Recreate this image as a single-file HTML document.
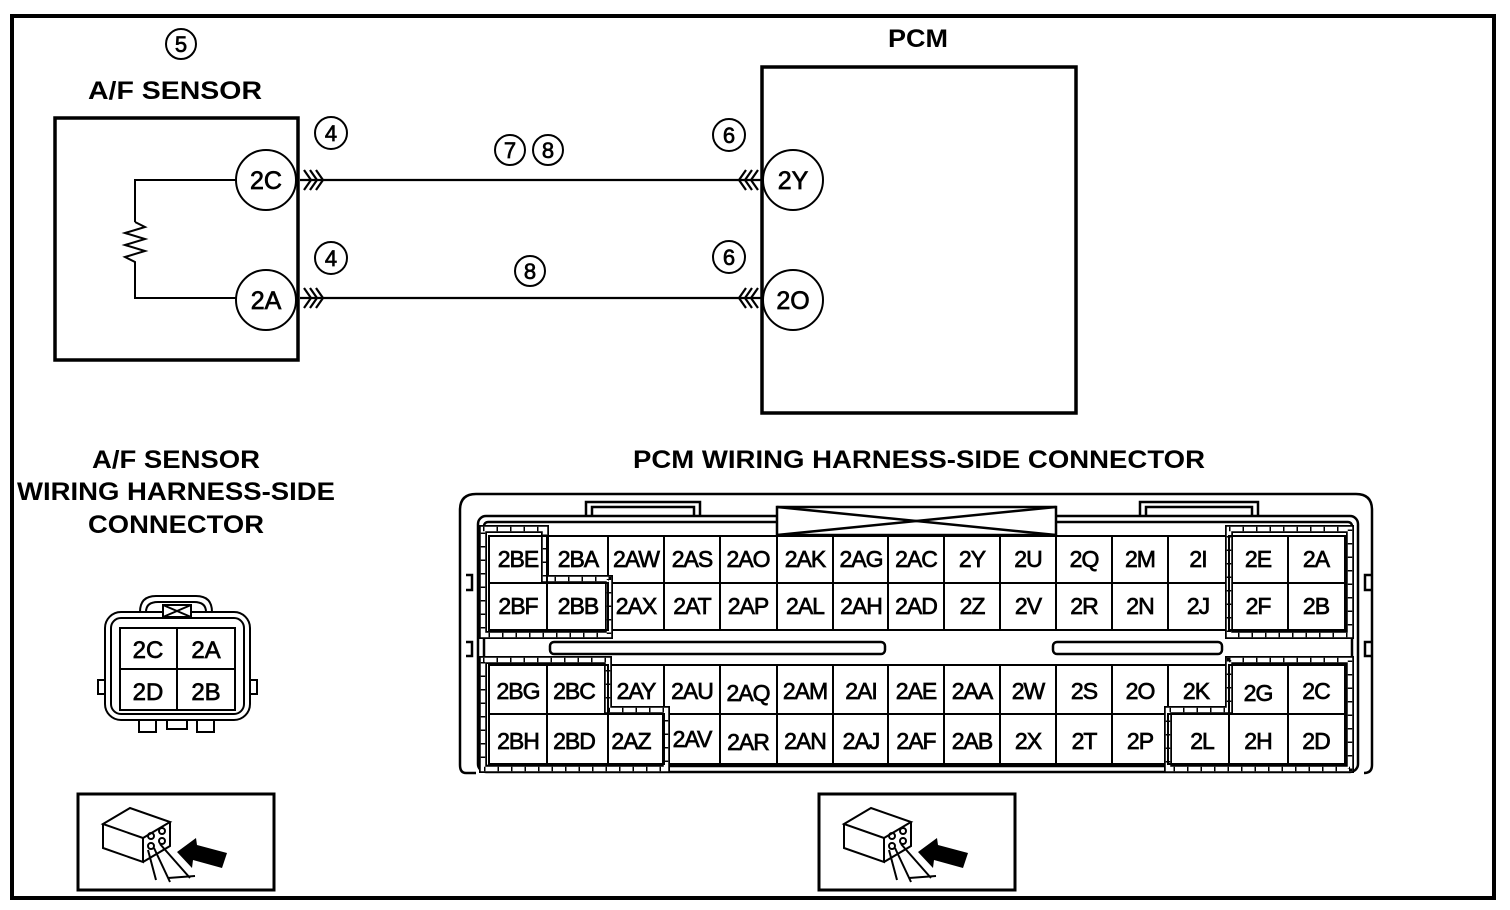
<!DOCTYPE html>
<html><head><meta charset="utf-8"><style>
html,body{margin:0;padding:0;background:#fff;}
svg{display:block;}
text{font-family:"Liberation Sans",Arial,sans-serif;fill:#000;}
.h{font-weight:bold;}
.n{font-weight:normal;stroke:#000;stroke-width:0.7;}
</style></head><body>
<svg width="1510" height="910" viewBox="0 0 1510 910" xmlns="http://www.w3.org/2000/svg">
<rect x="12" y="16" width="1482" height="882" fill="none" stroke="#000" stroke-width="4"/>

<!-- A/F sensor -->
<circle cx="181" cy="44" r="15" fill="none" stroke="#000" stroke-width="2"/>
<text class="n" x="181" y="52" font-size="22" text-anchor="middle">5</text>
<text class="h" x="88" y="99" font-size="25" textLength="174" lengthAdjust="spacingAndGlyphs">A/F SENSOR</text>
<rect x="55" y="118" width="243" height="242" fill="none" stroke="#000" stroke-width="3.5"/>
<polyline points="236,180 135,180 135,222" fill="none" stroke="#000" stroke-width="2"/>
<polyline points="135,222 145,227 125,233 145,239 125,245 145,251 125,257 135,262 135,298 236,298" fill="none" stroke="#000" stroke-width="2"/>
<circle cx="266" cy="180" r="30" fill="#fff" stroke="#000" stroke-width="2"/>
<text class="n" x="266" y="189" font-size="25" text-anchor="middle">2C</text>
<circle cx="266" cy="300" r="30" fill="#fff" stroke="#000" stroke-width="2"/>
<text class="n" x="266" y="309" font-size="25" text-anchor="middle">2A</text>
<circle cx="331" cy="133" r="16" fill="none" stroke="#000" stroke-width="2"/>
<text class="n" x="331" y="141" font-size="22" text-anchor="middle">4</text>
<circle cx="331" cy="258" r="16" fill="none" stroke="#000" stroke-width="2"/>
<text class="n" x="331" y="266" font-size="22" text-anchor="middle">4</text>

<!-- wires -->
<g stroke="#000" stroke-width="2.2" fill="none">
<line x1="300" y1="180" x2="762" y2="180"/>
<line x1="300" y1="298" x2="762" y2="298"/>
<polyline points="304,170 311,180 304,190"/><polyline points="310,170 317,180 310,190"/><polyline points="316,170 323,180 316,190"/>
<polyline points="304,288 311,298 304,308"/><polyline points="310,288 317,298 310,308"/><polyline points="316,288 323,298 316,308"/>
<polyline points="746,170 739,180 746,190"/><polyline points="752,170 745,180 752,190"/><polyline points="758,170 751,180 758,190"/>
<polyline points="746,288 739,298 746,308"/><polyline points="752,288 745,298 752,308"/><polyline points="758,288 751,298 758,308"/>
</g>
<circle cx="510" cy="150" r="15" fill="none" stroke="#000" stroke-width="2"/>
<text class="n" x="510" y="158" font-size="22" text-anchor="middle">7</text>
<circle cx="548" cy="150" r="15" fill="none" stroke="#000" stroke-width="2"/>
<text class="n" x="548" y="158" font-size="22" text-anchor="middle">8</text>
<circle cx="530" cy="271" r="15" fill="none" stroke="#000" stroke-width="2"/>
<text class="n" x="530" y="279" font-size="22" text-anchor="middle">8</text>
<circle cx="729" cy="135" r="16" fill="none" stroke="#000" stroke-width="2"/>
<text class="n" x="729" y="143" font-size="22" text-anchor="middle">6</text>
<circle cx="729" cy="257" r="16" fill="none" stroke="#000" stroke-width="2"/>
<text class="n" x="729" y="265" font-size="22" text-anchor="middle">6</text>

<!-- PCM -->
<text class="h" x="888" y="47" font-size="25" textLength="60" lengthAdjust="spacingAndGlyphs">PCM</text>
<rect x="762" y="67" width="314" height="346" fill="none" stroke="#000" stroke-width="3.5"/>
<circle cx="793" cy="180" r="30" fill="#fff" stroke="#000" stroke-width="2"/>
<text class="n" x="793" y="189" font-size="25" text-anchor="middle">2Y</text>
<circle cx="793" cy="300" r="30" fill="#fff" stroke="#000" stroke-width="2"/>
<text class="n" x="793" y="309" font-size="25" text-anchor="middle">2O</text>

<!-- labels -->
<text class="h" x="92" y="468" font-size="25" textLength="168" lengthAdjust="spacingAndGlyphs">A/F SENSOR</text>
<text class="h" x="17" y="500" font-size="25" textLength="318" lengthAdjust="spacingAndGlyphs">WIRING HARNESS-SIDE</text>
<text class="h" x="88" y="533" font-size="25" textLength="176" lengthAdjust="spacingAndGlyphs">CONNECTOR</text>
<text class="h" x="633" y="468" font-size="25" textLength="572" lengthAdjust="spacingAndGlyphs">PCM WIRING HARNESS-SIDE CONNECTOR</text>

<!-- small connector -->
<g stroke="#000" stroke-width="2" fill="none">
<path d="M140,612 Q140,596 156,596 L196,596 Q212,596 212,612"/>
<path d="M146,612 Q146,602 158,602 L194,602 Q206,602 206,612"/>
<rect x="105" y="612" width="145" height="108" rx="16"/>
<rect x="111" y="618" width="133" height="96" rx="10"/>
<rect x="120" y="628" width="115" height="82" fill="#fff"/>
<line x1="177" y1="628" x2="177" y2="710"/>
<line x1="120" y1="669" x2="235" y2="669"/>
<rect x="163" y="605" width="28" height="12" fill="#fff"/>
<line x1="163" y1="605" x2="191" y2="617"/><line x1="163" y1="617" x2="191" y2="605"/>
<rect x="139" y="720" width="17" height="12"/><rect x="167" y="720" width="20" height="9"/><rect x="197" y="720" width="17" height="12"/>
<path d="M105,680 L98,680 L98,694 L105,694"/><path d="M250,680 L257,680 L257,694 L250,694"/>
</g>
<g font-size="24" text-anchor="middle" class="n">
<text class="n" x="148" y="658">2C</text><text class="n" x="206" y="658">2A</text>
<text class="n" x="148" y="700">2D</text><text class="n" x="206" y="700">2B</text>
</g>

<!-- icon boxes -->
<g id="icon">
<rect x="78" y="794" width="196" height="96" fill="#fff" stroke="#000" stroke-width="3"/>
<g stroke="#000" stroke-width="2" fill="none">
<path d="M103,824 L130,808 L170,822 L143,838 Z" fill="#fff"/>
<path d="M103,824 L103,848 L143,862 L143,838"/>
<path d="M143,862 L170,846 L170,822"/>
<line x1="148" y1="850" x2="156" y2="880"/><line x1="154" y1="848" x2="170" y2="882"/><line x1="160" y1="844" x2="190" y2="878"/>
<line x1="168" y1="878" x2="195" y2="876"/>
<circle cx="151" cy="836" r="3"/><circle cx="162" cy="831" r="3"/><circle cx="151" cy="846" r="3"/><circle cx="162" cy="841" r="3"/>
</g>
<path d="M177,852 L196,838 L197,845 L227,853 L222,868 L193,860 L192,868 Z" fill="#000"/>
</g>
<use href="#icon" x="741" y="0"/>

<!-- PCM connector shell -->
<g stroke="#000" stroke-width="2.5" fill="none">
<path d="M476,773 L466,773 Q460,773 460,765 L460,510 Q460,494 476,494 L1356,494 Q1372,494 1372,510 L1372,765 Q1372,773 1364,773"/>
<rect x="478" y="516" width="880" height="256" rx="8"/>
<rect x="484" y="522" width="868" height="244" rx="4"/>
<path d="M586,516 L586,502 L700,502 L700,516"/><path d="M592,516 L592,507 L694,507 L694,516"/>
<path d="M1140,516 L1140,502 L1258,502 L1258,516"/><path d="M1146,516 L1146,507 L1252,507 L1252,516"/>
<rect x="777" y="507" width="279" height="28" fill="#fff"/>
<line x1="777" y1="507" x2="1056" y2="535"/><line x1="777" y1="535" x2="1056" y2="507"/>
<rect x="550" y="642" width="335" height="12" rx="4"/>
<rect x="1053" y="642" width="169" height="12" rx="4"/>
<path d="M466,575 L472,575 L472,590 L466,590"/><path d="M466,642 L472,642 L472,656 L466,656"/>
<path d="M1372,575 L1365,575 L1365,590 L1372,590"/><path d="M1372,642 L1365,642 L1365,656 L1372,656"/>
</g>

<!-- cells -->
<g stroke="#000" stroke-width="2" fill="#fff">
<rect x="489" y="536" width="856" height="94"/>
<rect x="489" y="665" width="856" height="99"/>
</g>
<g stroke="#000" stroke-width="2">
<line x1="489" y1="583" x2="1345" y2="583"/>
<line x1="489" y1="714" x2="1345" y2="714"/>
<path d="M547,536V630 M608,536V630 M664,536V630 M720,536V630 M777,536V630 M833,536V630 M888,536V630 M944,536V630 M1000,536V630 M1056,536V630 M1112,536V630 M1168,536V630 M1229,536V630 M1288,536V630"/>
<path d="M547,665V764 M608,665V764 M664,665V764 M720,665V764 M777,665V764 M833,665V764 M888,665V764 M944,665V764 M1000,665V764 M1056,665V764 M1112,665V764 M1168,665V764 M1229,665V764 M1288,665V764"/>
</g>

<!-- hatched regions -->
<g fill="none">
<g stroke="#000" stroke-width="8">
<polygon points="483,529 545,529 545,579 609,579 609,635 483,635"/>
<polygon points="1229,529 1350,529 1350,635 1229,635"/>
<polygon points="483,660 608,660 608,710 666,710 666,769 483,769"/>
<polygon points="1229,660 1350,660 1350,769 1168,769 1168,710 1229,710"/>
</g>
<g stroke="#fff" stroke-width="4.5">
<polygon points="483,529 545,529 545,579 609,579 609,635 483,635"/>
<polygon points="1229,529 1350,529 1350,635 1229,635"/>
<polygon points="483,660 608,660 608,710 666,710 666,769 483,769"/>
<polygon points="1229,660 1350,660 1350,769 1168,769 1168,710 1229,710"/>
</g>
<g stroke="#000" stroke-width="4.5" stroke-dasharray="1.5 12">
<polygon points="483,529 545,529 545,579 609,579 609,635 483,635"/>
<polygon points="1229,529 1350,529 1350,635 1229,635"/>
<polygon points="483,660 608,660 608,710 666,710 666,769 483,769"/>
<polygon points="1229,660 1350,660 1350,769 1168,769 1168,710 1229,710"/>
</g>
<g stroke="#000" stroke-width="2">
<path d="M489,536H547V583H489Z M489,583H608V630H489Z M1229,536H1345V630H1229Z"/>
<path d="M489,665H608V764H489Z M608,714H664V764H608 M1168,714H1229V764H1168Z M1229,665H1345V764H1229Z"/>
</g>
</g>

<g font-size="23" text-anchor="middle" letter-spacing="-1">
<text class="n" x="518" y="567">2BE</text><text class="n" x="578" y="567">2BA</text><text class="n" x="636" y="567">2AW</text><text class="n" x="692" y="567">2AS</text><text class="n" x="748" y="567">2AO</text><text class="n" x="805" y="567">2AK</text><text class="n" x="861" y="567">2AG</text><text class="n" x="916" y="567">2AC</text><text class="n" x="972" y="567">2Y</text><text class="n" x="1028" y="567">2U</text><text class="n" x="1084" y="567">2Q</text><text class="n" x="1140" y="567">2M</text><text class="n" x="1198" y="567">2I</text><text class="n" x="1258" y="567">2E</text><text class="n" x="1316" y="567">2A</text>
<text class="n" x="518" y="614">2BF</text><text class="n" x="578" y="614">2BB</text><text class="n" x="636" y="614">2AX</text><text class="n" x="692" y="614">2AT</text><text class="n" x="748" y="614">2AP</text><text class="n" x="805" y="614">2AL</text><text class="n" x="861" y="614">2AH</text><text class="n" x="916" y="614">2AD</text><text class="n" x="972" y="614">2Z</text><text class="n" x="1028" y="614">2V</text><text class="n" x="1084" y="614">2R</text><text class="n" x="1140" y="614">2N</text><text class="n" x="1198" y="614">2J</text><text class="n" x="1258" y="614">2F</text><text class="n" x="1316" y="614">2B</text>
<text class="n" x="518" y="699">2BG</text><text class="n" x="574" y="699">2BC</text><text class="n" x="636" y="699">2AY</text><text class="n" x="692" y="699">2AU</text><text class="n" x="748" y="701">2AQ</text><text class="n" x="805" y="699">2AM</text><text class="n" x="861" y="699">2AI</text><text class="n" x="916" y="699">2AE</text><text class="n" x="972" y="699">2AA</text><text class="n" x="1028" y="699">2W</text><text class="n" x="1084" y="699">2S</text><text class="n" x="1140" y="699">2O</text><text class="n" x="1196" y="699">2K</text><text class="n" x="1258" y="701">2G</text><text class="n" x="1316" y="699">2C</text>
<text class="n" x="518" y="749">2BH</text><text class="n" x="574" y="749">2BD</text><text class="n" x="631" y="749">2AZ</text><text class="n" x="692" y="747">2AV</text><text class="n" x="748" y="750">2AR</text><text class="n" x="805" y="749">2AN</text><text class="n" x="861" y="749">2AJ</text><text class="n" x="916" y="749">2AF</text><text class="n" x="972" y="749">2AB</text><text class="n" x="1028" y="749">2X</text><text class="n" x="1084" y="749">2T</text><text class="n" x="1140" y="749">2P</text><text class="n" x="1202" y="749">2L</text><text class="n" x="1258" y="749">2H</text><text class="n" x="1316" y="749">2D</text>
</g>
</svg>
</body></html>
